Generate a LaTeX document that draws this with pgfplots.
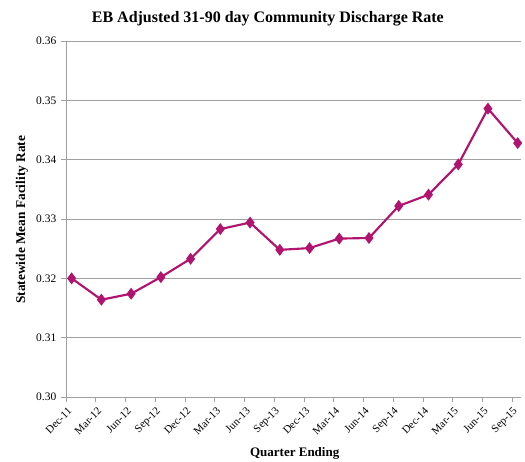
\documentclass[border=0pt]{standalone}
\usepackage{pgfplots}
\pgfplotsset{compat=1.18}
\usepackage{fontspec}
\setmainfont{Liberation Serif}
\definecolor{linec}{RGB}{176,20,110}
\definecolor{gridc}{RGB}{160,160,160}
\begin{document}
\begin{tikzpicture}
\useasboundingbox (-49.5pt,-48pt) rectangle (344.25pt,297.75pt);
\begin{axis}[
  at={(0,0)}, anchor=south west,
  scale only axis,
  width=341pt, height=267pt,
  xmin=-0.19, xmax=15.1,
  ymin=0.30, ymax=0.36,
  ytick={0.30,0.31,...,0.36},
  /pgf/number format/assume math mode=true,
  yticklabel style={font=\fontsize{8.6}{10}\selectfont, /pgf/number format/fixed, /pgf/number format/fixed zerofill, /pgf/number format/precision=2},
  xtick={-0.19,0.81,1.81,2.81,3.81,4.81,5.81,6.81,7.81,8.81,9.81,10.81,11.81,12.81,13.81,14.81},
  xticklabels={Dec-11,Mar-12,Jun-12,Sep-12,Dec-12,Mar-13,Jun-13,Sep-13,Dec-13,Mar-14,Jun-14,Sep-14,Dec-14,Mar-15,Jun-15,Sep-15},
  xticklabel style={rotate=45, anchor=east, font=\fontsize{8.2}{9}\selectfont},
  xticklabel shift={0pt},
  every x tick label/.append style={xshift=1.5pt, yshift=-6pt},
  tick style={gridc, line width=0.5pt},
  tick align=outside,
  major tick length=3.75pt,
  xtick pos=bottom, ytick pos=left,
  ymajorgrids,
  grid style={gridc, line width=0.6pt},
  axis line style={gridc, line width=0.6pt},
  axis x line*=bottom,
  axis y line*=left,
  title={EB Adjusted 31-90 day Community Discharge Rate},
  title style={font=\bfseries\fontsize{12}{14}\selectfont, at={(axis description cs:0.444,1)}, anchor=center, yshift=11pt},
  xlabel={Quarter Ending},
  xlabel style={font=\bfseries\fontsize{9.75}{11}\selectfont, at={(axis description cs:0.503,0)}, anchor=center, yshift=-42.5pt},
  ylabel={Statewide Mean Facility Rate},
  ylabel style={font=\bfseries\fontsize{10}{11}\selectfont, at={(axis description cs:-0.097,0.498)}, anchor=center},
  clip=false,
]
\addplot[color=linec, line width=1.6pt, mark=diamond*, mark size=3.2pt, mark options={fill=linec, draw=linec}]
coordinates {
(0,0.3200) (1,0.3164) (2,0.3174) (3,0.3202) (4,0.3233) (5,0.3283) (6,0.3294) (7,0.3248)
(8,0.3251) (9,0.3267) (10,0.3268) (11,0.3322) (12,0.3341) (13,0.3392) (14,0.3486) (15,0.3428)
};
\end{axis}
\end{tikzpicture}
\end{document}
